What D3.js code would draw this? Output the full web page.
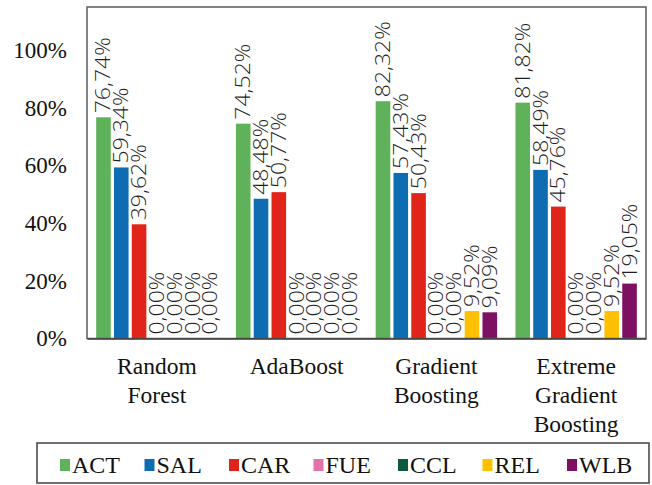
<!DOCTYPE html>
<html>
<head>
<meta charset="utf-8">
<script src="https://cdn.jsdelivr.net/npm/d3@7"></script>
<style>
  html, body { margin: 0; padding: 0; background: #fff; }
  svg { display: block; }
  .serif { font-family: 'Liberation Serif', 'Times New Roman', serif; }
  .val { font-family: 'Open Sans', 'Liberation Sans', Arial, sans-serif; font-weight: 350; }
</style>
</head>
<body>
<svg id="chart" width="652" height="485"></svg>
<script>
// Model names (line breaks mark how each axis label wraps)
const categories = ["Random\nForest", "AdaBoost", "Gradient\nBoosting", "Extreme\nGradient\nBoosting"];
// Factor codes, in bar order within each group
const seriesNames = ["ACT", "SAL", "CAR", "FUE", "CCL", "REL", "WLB"];
// Percent values per model
const ACT = [76.74, 74.52, 82.32, 81.82];
const SAL = [59.34, 48.48, 57.43, 58.49];
const CAR = [39.62, 50.77, 50.43, 45.76];
const FUE = [0.00, 0.00, 0.00, 0.00];
const CCL = [0.00, 0.00, 0.00, 0.00];
const REL = [0.00, 0.00, 9.52, 9.52];
const WLB = [0.00, 0.00, 9.09, 19.05];
const yTicks = [0, 20, 40, 60, 80, 100];

const seriesValues = { ACT, SAL, CAR, FUE, CCL, REL, WLB };
const colors = {
  ACT: "#60b25a", SAL: "#0e6cb2", CAR: "#e0241a", FUE: "#e374ab",
  CCL: "#0c5a3e", REL: "#ffc000", WLB: "#7e1063"
};

const svg = d3.select("#chart");
const plot = { left: 87, right: 646, top: 7, bottom: 338.5 };

const x0 = d3.scaleBand().domain(categories).range([plot.left, plot.right]).padding(0);
const x1 = d3.scaleBand().domain(seriesNames).range([0, x0.bandwidth()])
  .paddingInner(0.18).paddingOuter(0.515);
const y = d3.scaleLinear().domain([0, 115]).range([plot.bottom, plot.top]);

// Decimal comma for the value labels
const locale = d3.formatLocale({ decimal: ",", thousands: ".", grouping: [3], currency: ["", "€"] });
const fmtVal = v => locale.format(".2f")(v) + "%";

// Rows of bar data
const rows = [];
categories.forEach((c, i) => {
  seriesNames.forEach(s => rows.push({ cat: c, s, v: seriesValues[s][i] }));
});

// Bars
svg.append("g").selectAll("rect").data(rows).join("rect")
  .attr("x", d => x0(d.cat) + x1(d.s))
  .attr("y", d => y(d.v))
  .attr("width", x1.bandwidth())
  .attr("height", d => y(0) - y(d.v))
  .attr("fill", d => colors[d.s]);

// Value labels, rotated to read upward
svg.append("g").selectAll("text").data(rows).join("text")
  .attr("class", "val")
  .attr("transform", d => {
    const cx = x0(d.cat) + x1(d.s) + x1.bandwidth() / 2;
    return `translate(${cx},${y(d.v) - 4}) rotate(-90) scale(1.18,1)`;
  })
  .attr("dy", "0.36em")
  .attr("text-anchor", "start")
  .style("font-size", "19.5px")
  .attr("fill", "#1e1e1e")
  .text(d => fmtVal(d.v));

// Plot frame
svg.append("rect")
  .attr("x", plot.left).attr("y", plot.top)
  .attr("width", plot.right - plot.left).attr("height", plot.bottom - plot.top)
  .attr("fill", "none").attr("stroke", "#595959").attr("stroke-width", 1.5);

// Y axis labels
const yAxis = d3.axisLeft(y).tickValues(yTicks).tickSize(0).tickPadding(20)
  .tickFormat(d => d + "%");
const yg = svg.append("g").attr("transform", `translate(${plot.left},0)`).call(yAxis)
  .attr("font-family", null).attr("font-size", null);
yg.select(".domain").remove();
yg.selectAll("text").attr("class", "serif")
  .style("font-size", "23px").attr("fill", "#111");

// X axis (category labels, wrapped)
const xAxis = d3.axisBottom(x0).tickSize(0).tickFormat("");
const xg = svg.append("g").attr("transform", `translate(0,${plot.bottom})`).call(xAxis)
  .attr("font-family", null).attr("font-size", null);
xg.select(".domain").attr("stroke", "#404040").attr("stroke-width", 1.5);
xg.selectAll(".tick").each(function (d) {
  const t = d3.select(this).append("text")
    .attr("class", "serif")
    .attr("text-anchor", "middle")
    .attr("fill", "#111")
    .style("font-size", "23.5px");
  d.split("\n").forEach((line, k) => {
    t.append("tspan").attr("x", 0).attr("y", 35.5 + k * 29).text(line);
  });
});

// Legend
const legend = { x: 37, y: 443, w: 612, h: 40, start: 60, step: 84.5 };
svg.append("rect")
  .attr("x", legend.x).attr("y", legend.y).attr("width", legend.w).attr("height", legend.h)
  .attr("fill", "none").attr("stroke", "#404040").attr("stroke-width", 1.5);
const items = svg.append("g").selectAll("g").data(seriesNames).join("g")
  .attr("transform", (d, i) => `translate(${legend.start + i * legend.step},0)`);
items.append("rect")
  .attr("x", 0).attr("y", 459).attr("width", 10).attr("height", 12)
  .attr("fill", d => colors[d]);
items.append("text")
  .attr("class", "serif")
  .attr("x", 12).attr("y", 473)
  .style("font-size", "24px").attr("fill", "#111")
  .text(d => d);
</script>
</body>
</html>
